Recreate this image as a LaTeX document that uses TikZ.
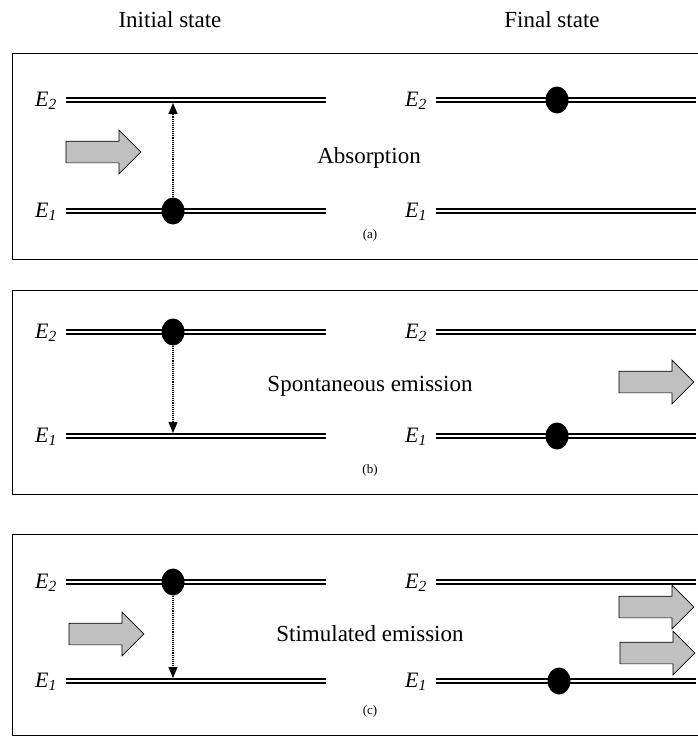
\documentclass[tikz,border=0pt]{standalone}
\usepackage{fontspec}
\setmainfont{Liberation Serif}
\usetikzlibrary{arrows.meta,shapes.geometric,shapes.arrows}
\definecolor{photongray}{RGB}{192,192,192}

\begin{document}
\begin{tikzpicture}[x=1pt, y=-1pt,
    level/.style={double, line width=2pt, double distance=1.4pt},
    electron/.style={ellipse, fill=black, minimum width=23pt, minimum height=27pt, inner sep=0pt},
    jump/.style={densely dotted, line width=1.1pt, -{Triangle[width=9pt,length=11pt]}},
    photon/.style={single arrow, draw, line width=0.7pt, fill=photongray, inner xsep=0pt,
        inner ysep=10.5pt, minimum height=75pt, single arrow head extend=11pt},
    big/.style={font=\fontsize{23}{27}\selectfont},
    elabel/.style={font=\fontsize{22}{26}\selectfont, inner sep=0pt, anchor=east},
    small/.style={font=\fontsize{13}{15}\selectfont}]
    \useasboundingbox (0,0) rectangle (698,736);
    \node[big] (init) at (170,20) {Initial state};
    \node[big] (final) at (552,20) {Final state};
    % frames, energy levels and their labels
    \foreach \n/\top/\bot/\up/\lo in {a/53/259/100/211, b/290/494/332/436, c/534/735/582/681} {
        \draw[line width=0.8pt] (12,\top) rectangle (700,\bot);
        \coordinate (\n L2s) at (66,\up);
        \coordinate (\n L2e) at (326,\up);
        \coordinate (\n L1s) at (66,\lo);
        \coordinate (\n L1e) at (326,\lo);
        \coordinate (\n R2s) at (436,\up);
        \coordinate (\n R2e) at (696,\up);
        \coordinate (\n R1s) at (436,\lo);
        \coordinate (\n R1e) at (696,\lo);
        \draw[level] (\n L2s) -- (\n L2e);
        \draw[level] (\n L1s) -- (\n L1e);
        \draw[level] (\n R2s) -- (\n R2e);
        \draw[level] (\n R1s) -- (\n R1e);
        \node[elabel] (\n E2l) at ([xshift=-9pt,yshift=-1pt]\n L2s) {\textit{E\textsubscript{2}}};
        \node[elabel] (\n E1l) at ([xshift=-9pt,yshift=-1pt]\n L1s) {\textit{E\textsubscript{1}}};
        \node[elabel] (\n E2r) at ([xshift=-9pt,yshift=-1pt]\n R2s) {\textit{E\textsubscript{2}}};
        \node[elabel] (\n E1r) at ([xshift=-9pt,yshift=-1pt]\n R1s) {\textit{E\textsubscript{1}}};
        \node[small] (\n tag) at (370,\bot-24) {(\n)};
    }
    % (a) absorption
    \node[big] (abs) at (369,158) {Absorption};
    \node[photon] (pa) at (98,152) {};
    \node[electron] (ea1) at (173,211) {};
    \node[electron] (ea2) at (557,100) {};
    \coordinate (ta) at (173,103);
    \draw[jump] (ea1) -- (ta);
    % (b) spontaneous emission
    \node[big] (spon) at (370,386) {Spontaneous emission};
    \node[photon] (pb) at (651,382) {};
    \node[electron] (eb1) at (173,332) {};
    \node[electron] (eb2) at (557,436) {};
    \coordinate (tb) at (173,433);
    \draw[jump] (eb1) -- (tb);
    % (c) stimulated emission
    \node[big] (stim) at (370,634) {Stimulated emission};
    \node[photon] (pc1) at (101,634) {};
    \node[photon] (pc2) at (651,607) {};
    \node[photon] (pc3) at (652,653) {};
    \node[electron] (ec1) at (173,582) {};
    \node[electron] (ec2) at (559,681) {};
    \coordinate (tc) at (173,678);
    \draw[jump] (ec1) -- (tc);
\end{tikzpicture}
\end{document}
